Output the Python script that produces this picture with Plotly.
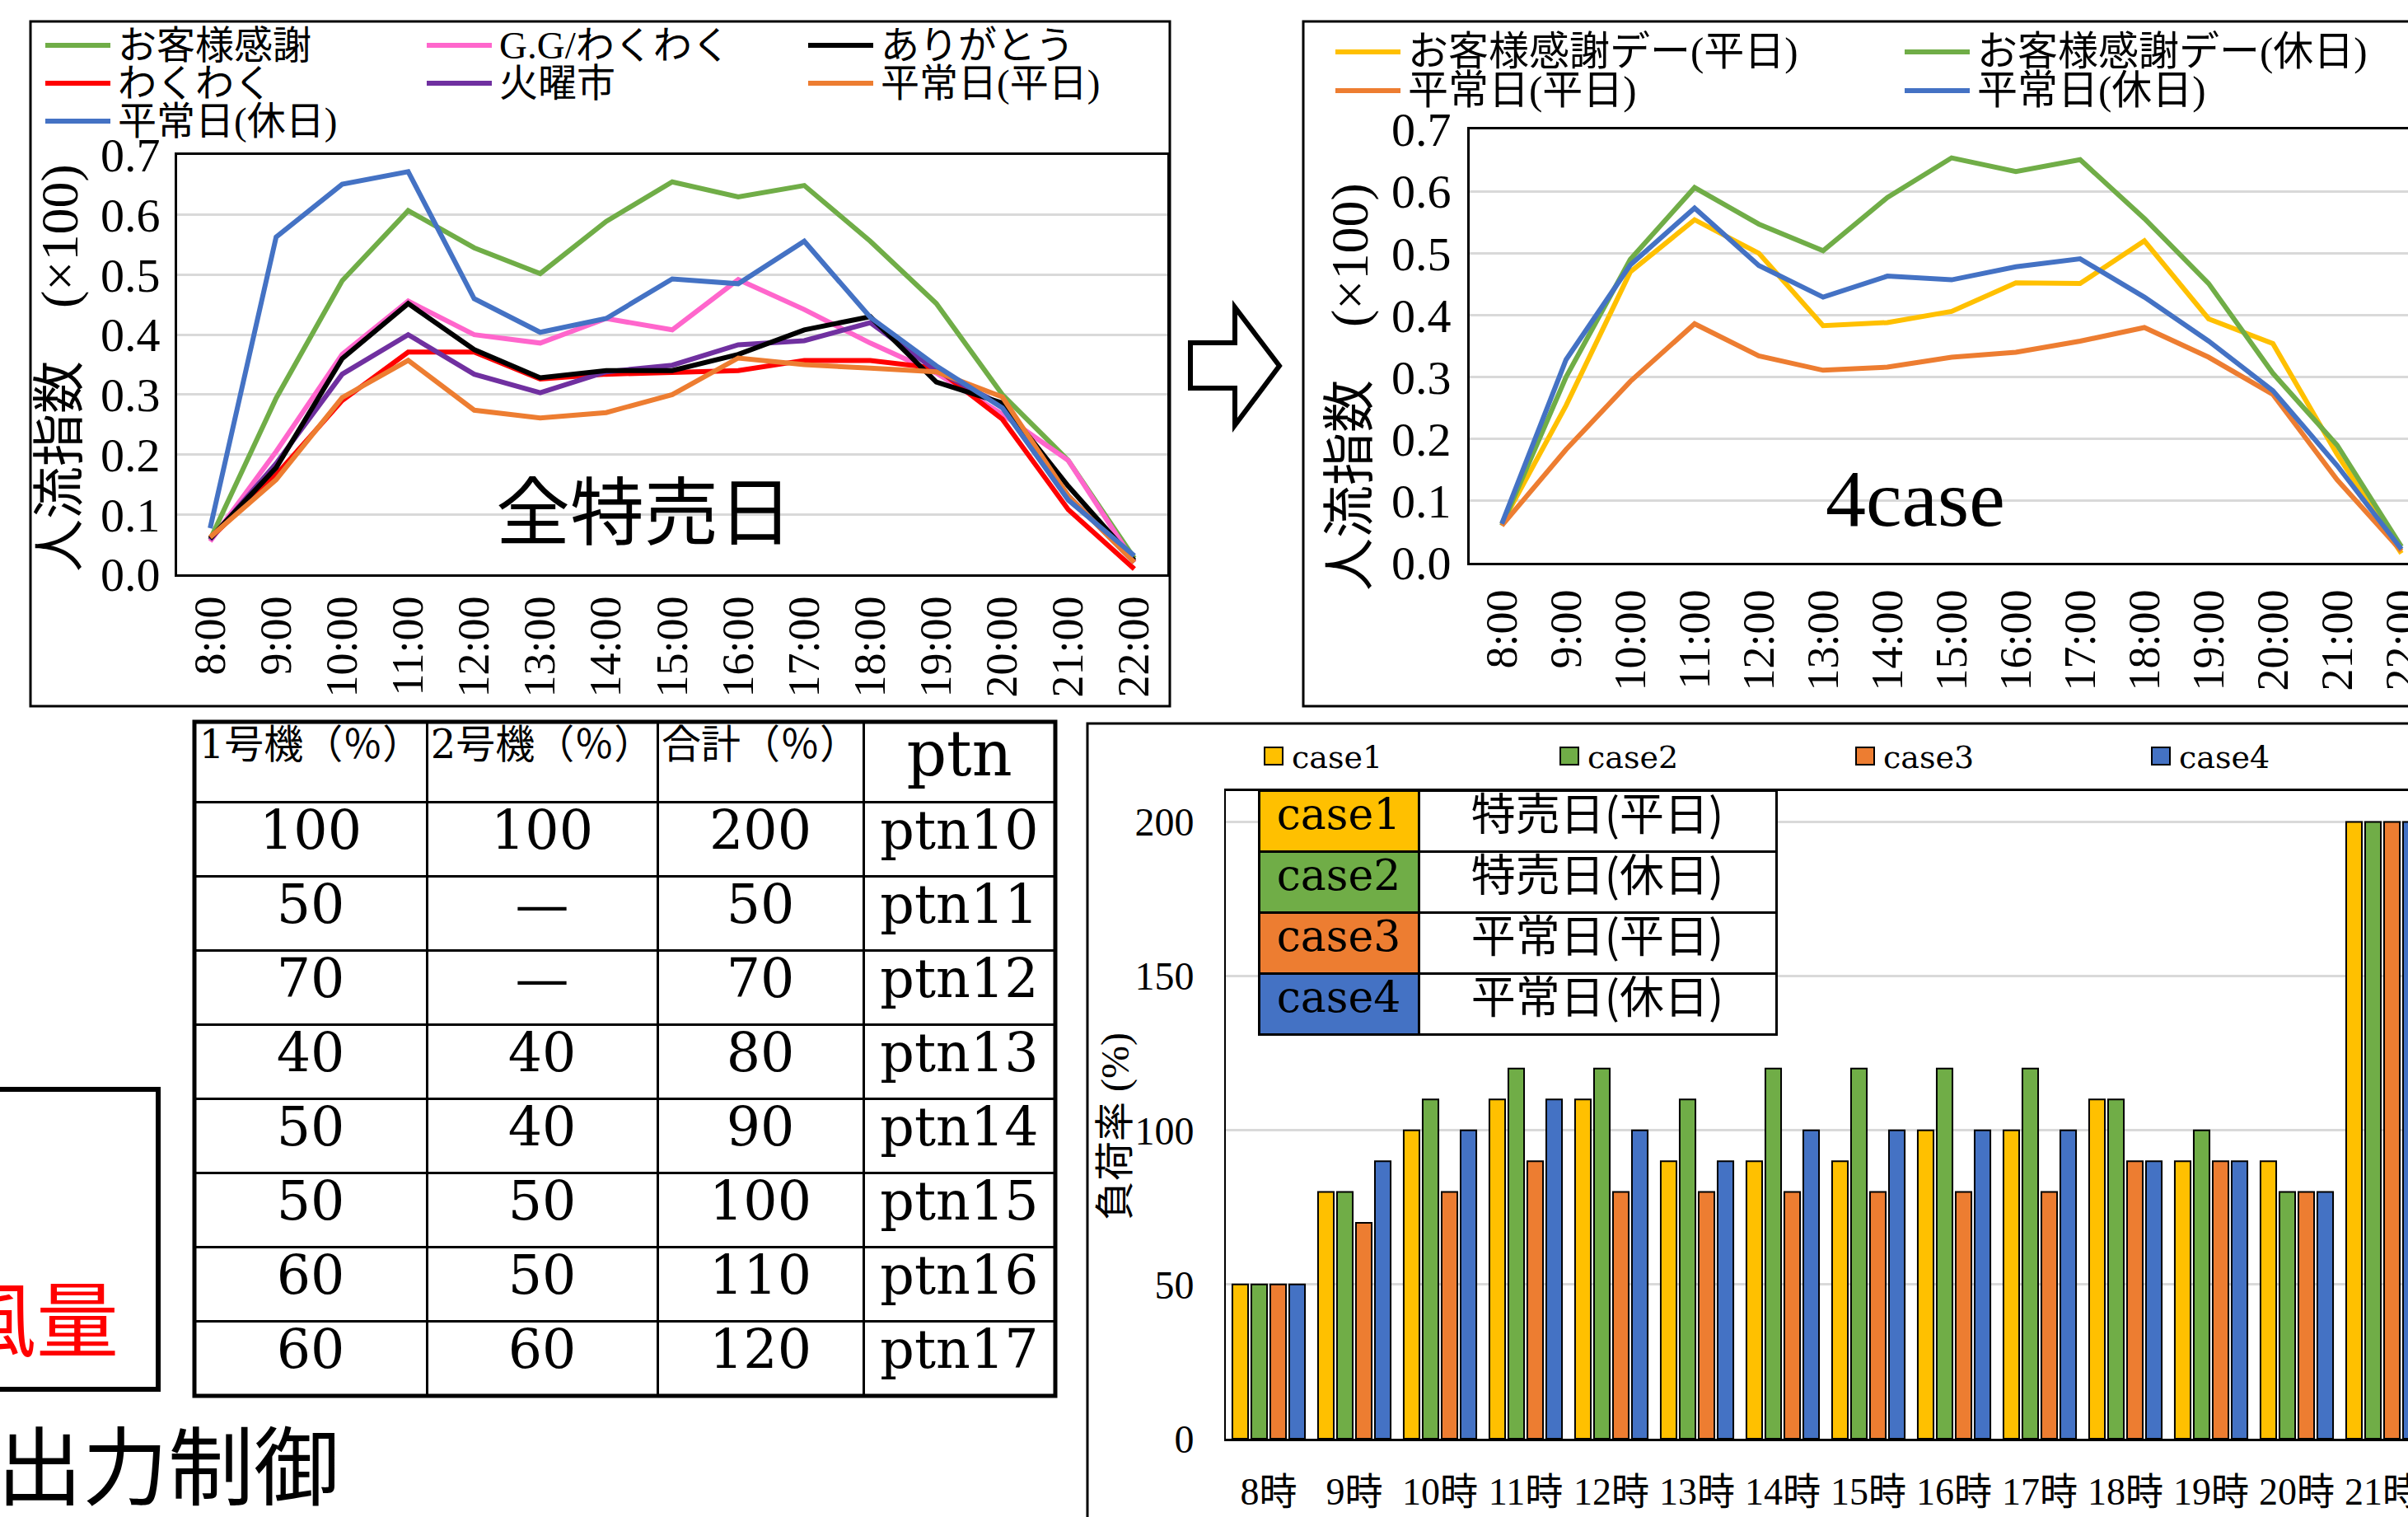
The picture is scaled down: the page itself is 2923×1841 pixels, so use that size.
import plotly.graph_objects as go

# ---------------- data ----------------
hours = ["8:00", "9:00", "10:00", "11:00", "12:00", "13:00", "14:00", "15:00",
         "16:00", "17:00", "18:00", "19:00", "20:00", "21:00", "22:00"]

# people-flow index (x100), all special sale days
kansha = [0.058, 0.294, 0.49, 0.607, 0.545, 0.502, 0.589, 0.655, 0.63, 0.649, 0.556, 0.452, 0.30, 0.19, 0.027]
gg_waku = [0.055, 0.205, 0.367, 0.456, 0.40, 0.386, 0.427, 0.408, 0.492, 0.442, 0.386, 0.336, 0.267, 0.19, 0.02]
arigatou = [0.06, 0.178, 0.36, 0.452, 0.375, 0.328, 0.34, 0.34, 0.367, 0.408, 0.43, 0.321, 0.286, 0.147, 0.023]
wakuwaku = [0.06, 0.166, 0.29, 0.371, 0.371, 0.326, 0.334, 0.338, 0.34, 0.357, 0.357, 0.344, 0.259, 0.108, 0.009]
kayouichi = [0.058, 0.185, 0.334, 0.40, 0.334, 0.303, 0.338, 0.349, 0.383, 0.39, 0.42, 0.34, 0.282, 0.131, 0.02]
heijou_wd = [0.062, 0.158, 0.295, 0.357, 0.274, 0.261, 0.27, 0.30, 0.361, 0.35, 0.344, 0.338, 0.296, 0.131, 0.02]
heijou_we = [0.077, 0.563, 0.651, 0.672, 0.46, 0.404, 0.427, 0.493, 0.485, 0.556, 0.429, 0.348, 0.278, 0.124, 0.031]

# people-flow index (x100), four representative cases
case1_flow = [0.063, 0.254, 0.47, 0.554, 0.50, 0.383, 0.388, 0.406, 0.452, 0.451, 0.52, 0.394, 0.354, 0.175, 0.015]
case2_flow = [0.06, 0.30, 0.49, 0.606, 0.547, 0.504, 0.59, 0.654, 0.632, 0.651, 0.556, 0.451, 0.306, 0.19, 0.026]
case3_flow = [0.06, 0.183, 0.293, 0.386, 0.334, 0.311, 0.316, 0.332, 0.34, 0.358, 0.38, 0.332, 0.272, 0.134, 0.019]
case4_flow = [0.063, 0.328, 0.481, 0.573, 0.48, 0.429, 0.463, 0.457, 0.478, 0.491, 0.429, 0.358, 0.278, 0.157, 0.022]

# load factor (%) per hour for each case
bar_hours = ["8時", "9時", "10時", "11時", "12時", "13時", "14時", "15時",
             "16時", "17時", "18時", "19時", "20時", "21時"]
case1_load = [50, 80, 100, 110, 110, 90, 90, 90, 100, 100, 110, 90, 90, 200]
case2_load = [50, 80, 110, 120, 120, 110, 120, 120, 120, 120, 110, 100, 80, 200]
case3_load = [50, 70, 80, 90, 80, 80, 80, 80, 80, 80, 90, 90, 80, 200]
case4_load = [50, 90, 100, 110, 100, 90, 100, 100, 100, 100, 90, 90, 80, 200]

case_names = ["case1", "case2", "case3", "case4"]
case_desc = ["特売日(平日)", "特売日(休日)", "平常日(平日)", "平常日(休日)"]

# output pattern table
table_header = ["1号機（％）", "2号機（％）", "合計（％）", "ptn"]
unit1_pct = ["100", "50", "70", "40", "50", "50", "60", "60"]
unit2_pct = ["100", "—", "—", "40", "40", "50", "50", "60"]
total_pct = ["200", "50", "70", "80", "90", "100", "110", "120"]
ptn_ids = ["ptn10", "ptn11", "ptn12", "ptn13", "ptn14", "ptn15", "ptn16", "ptn17"]

# ---------------- styling ----------------
W, H = 2923, 1841
SERIF = "Liberation Serif, Noto Sans CJK JP"
WIDE = "DejaVu Serif, Noto Sans CJK JP"
CJK = "Noto Sans CJK JP"
GREEN, PINK, BLACK, RED = "#70AD47", "#FF66CC", "#000000", "#FF0000"
PURPLE, ORANGE, BLUE, YELLOW = "#7030A0", "#ED7D31", "#4472C4", "#FFC000"
GRID = "#D9D9D9"


def fx(p):
    return p / W


def fy(p):
    return 1 - p / H


def note(x, y, text, size, family=SERIF, color="black", xanchor="center", yanchor="middle", angle=0):
    return dict(xref="paper", yref="paper", x=fx(x), y=fy(y), text=text, showarrow=False,
                xanchor=xanchor, yanchor=yanchor, textangle=angle,
                font=dict(family=family, size=size, color=color))


fig = go.Figure()

# ---- left line chart: all sale days ----
left_series = [
    ("お客様感謝", kansha, GREEN),
    ("G.G/わくわく", gg_waku, PINK),
    ("ありがとう", arigatou, BLACK),
    ("わくわく", wakuwaku, RED),
    ("火曜市", kayouichi, PURPLE),
    ("平常日(平日)", heijou_wd, ORANGE),
    ("平常日(休日)", heijou_we, BLUE),
]
draw_order = [0, 1, 3, 4, 2, 5, 6]
for i in draw_order:
    name, vals, col = left_series[i]
    fig.add_trace(go.Scatter(x=hours, y=vals, name=name, mode="lines",
                             line=dict(color=col, width=6), showlegend=False,
                             xaxis="x", yaxis="y"))

# ---- right line chart: four cases ----
right_series = [
    ("お客様感謝デー(平日)", case1_flow, YELLOW),
    ("お客様感謝デー(休日)", case2_flow, GREEN),
    ("平常日(平日)", case3_flow, ORANGE),
    ("平常日(休日)", case4_flow, BLUE),
]
for name, vals, col in right_series:
    fig.add_trace(go.Scatter(x=hours, y=vals, name=name, mode="lines",
                             line=dict(color=col, width=6), showlegend=False,
                             xaxis="x2", yaxis="y2"))

# ---- bar chart: load factor ----
bar_colors = [YELLOW, GREEN, ORANGE, BLUE]
for nm, vals, col in zip(case_names, [case1_load, case2_load, case3_load, case4_load], bar_colors):
    fig.add_trace(go.Bar(x=bar_hours, y=vals, name=nm, marker=dict(color=col, line=dict(color="black", width=2)),
                         showlegend=False, xaxis="x3", yaxis="y3"))

# ---- output pattern table ----
fig.add_trace(go.Table(
    domain=dict(x=[fx(236), fx(1281)], y=[fy(1760), fy(876)]),
    columnwidth=[282, 280, 250, 233],
    header=dict(values=table_header, height=97, align="center",
                fill=dict(color="white"), line=dict(color="black", width=3),
                font=dict(family=WIDE, size=[48, 48, 48, 76], color="black")),
    cells=dict(values=[unit1_pct, unit2_pct, total_pct, ptn_ids], height=90, align="center",
               fill=dict(color="white"), line=dict(color="black", width=3),
               font=dict(family=WIDE, size=65, color="black")),
))

# ---- case legend table inside the bar chart ----
fig.add_trace(go.Table(
    domain=dict(x=[fx(1528), fx(2156)], y=[fy(1290), fy(959)]),
    columnwidth=[194, 434],
    header=dict(values=[case_names[0], case_desc[0]], height=74, align="center",
                fill=dict(color=[bar_colors[0], "white"]), line=dict(color="black", width=3),
                font=dict(family=[WIDE, CJK], size=[52, 54], color="black")),
    cells=dict(values=[case_names[1:], case_desc[1:]], height=74, align="center",
               fill=dict(color=[bar_colors[1:], ["white"] * 3]), line=dict(color="black", width=3),
               font=dict(family=[WIDE, CJK], size=[52, 54], color="black")),
))

shapes = []
annotations = []

# panel frames
for x0, y0, x1, y1 in [(37, 26, 1420, 857), (1582, 26, 2940, 857), (1320, 878, 2940, 1860)]:
    shapes.append(dict(type="rect", xref="paper", yref="paper", x0=fx(x0), x1=fx(x1), y0=fy(y0), y1=fy(y1),
                       line=dict(color="black", width=3), layer="above"))

# hollow arrow between the line charts
arrow_pts = [(1445, 416), (1499, 416), (1499, 373), (1553, 444), (1499, 516), (1499, 471), (1445, 471)]
path = "M " + " L ".join(f"{fx(a):.5f},{fy(b):.5f}" for a, b in arrow_pts) + " Z"
shapes.append(dict(type="path", xref="paper", yref="paper", path=path,
                   line=dict(color="black", width=6), fillcolor="white"))

# boxed label on the left edge
shapes.append(dict(type="rect", xref="paper", yref="paper", x0=fx(-20), x1=fx(192), y0=fy(1322), y1=fy(1686),
                   line=dict(color="black", width=6)))
annotations.append(note(146, 1595, "風量", 100, family=CJK, color="red", xanchor="right"))
annotations.append(note(414, 1773, "出力制御", 104, family=CJK, xanchor="right"))

# outer border of the output pattern table
shapes.append(dict(type="rect", xref="paper", yref="paper", x0=fx(236), x1=fx(1281), y0=fy(1694), y1=fy(876),
                   line=dict(color="black", width=5), layer="above"))


def line_legend(entries, cols_x, rows_y, size):
    for k, (name, _vals, col) in enumerate(entries):
        cx = cols_x[k % len(cols_x)]
        ry = rows_y[k // len(cols_x)]
        shapes.append(dict(type="line", xref="paper", yref="paper", x0=fx(cx), x1=fx(cx + 79),
                           y0=fy(ry), y1=fy(ry), line=dict(color=col, width=6)))
        annotations.append(note(cx + 86, ry, name, size, xanchor="left"))


line_legend(left_series, [55, 518, 981], [55, 101, 147], 47)
line_legend(right_series, [1621, 2312], [63, 110], 49)

# bar chart legend
for k, (nm, col) in enumerate(zip(case_names, bar_colors)):
    x0 = 1535 + 359 * k
    shapes.append(dict(type="rect", xref="paper", yref="paper", x0=fx(x0), x1=fx(x0 + 22),
                       y0=fy(928), y1=fy(907), fillcolor=col, line=dict(color="black", width=2)))
    annotations.append(note(x0 + 31, 919, nm, 38, family=WIDE, xanchor="left"))

# chart captions and axis titles
annotations.append(note(782, 615, "全特売日", 90, family=CJK))
annotations.append(note(2325, 605, "4case", 98))
for cx, cy in [(73, 447), (1638, 470)]:
    annotations.append(note(cx, cy, "人流指数　(×100)", 64, angle=-90))
annotations.append(note(1354, 1367, "負荷率 (%)", 48, angle=-90))

line_x = dict(type="category", showgrid=False, ticks="", tickangle=-90, automargin=False,
              tickfont=dict(family=SERIF, size=54, color="black"),
              showline=True, linecolor="black", linewidth=3, mirror=True, zeroline=False)
line_y = dict(range=[0, 0.7], dtick=0.1, tickformat=".1f", showgrid=True, gridcolor=GRID, gridwidth=3,
              ticks="", tickfont=dict(family=SERIF, size=58, color="black"), automargin=False,
              showline=True, linecolor="black", linewidth=3, zeroline=False)

fig.update_layout(
    width=W, height=H, margin=dict(l=0, r=0, t=0, b=0, pad=0, autoexpand=False),
    paper_bgcolor="white", plot_bgcolor="white",
    font=dict(family=SERIF, color="black"),
    barmode="group", bargap=0.115, bargroupgap=0.17,
    xaxis=dict(line_x, domain=[fx(215), fx(1417)], range=[-0.5, 14.5], anchor="y",
               ticklabelstandoff=2),
    yaxis=dict(line_y, domain=[fy(697), fy(188)], anchor="x", mirror=True, ticklabelstandoff=6),
    xaxis2=dict(line_x, domain=[fx(1784), 1.0], range=[-0.5, -0.5 + (W - 1784) / 78], anchor="y2",
                ticklabelstandoff=8),
    yaxis2=dict(line_y, domain=[fy(683), fy(157)], anchor="x2", mirror=False, ticklabelstandoff=8),
    xaxis3=dict(type="category", domain=[fx(1488), 1.0], range=[-0.5, -0.5 + (W - 1488) / 104],
                anchor="y3", showgrid=False, ticks="", ticklabelstandoff=22, automargin=False,
                tickfont=dict(family=SERIF, size=46, color="black"),
                showline=True, linecolor="black", linewidth=3, mirror=True, zeroline=False),
    yaxis3=dict(domain=[fy(1746), fy(960)], range=[0, 210], tickvals=[0, 50, 100, 150, 200],
                anchor="x3", showgrid=True, gridcolor=GRID, gridwidth=3, ticks="", automargin=False,
                tickfont=dict(family=SERIF, size=48, color="black"), ticklabelstandoff=27,
                showline=True, linecolor="black", linewidth=2, zeroline=False),
    shapes=shapes,
    annotations=annotations,
)

fig.write_html("out.html")
